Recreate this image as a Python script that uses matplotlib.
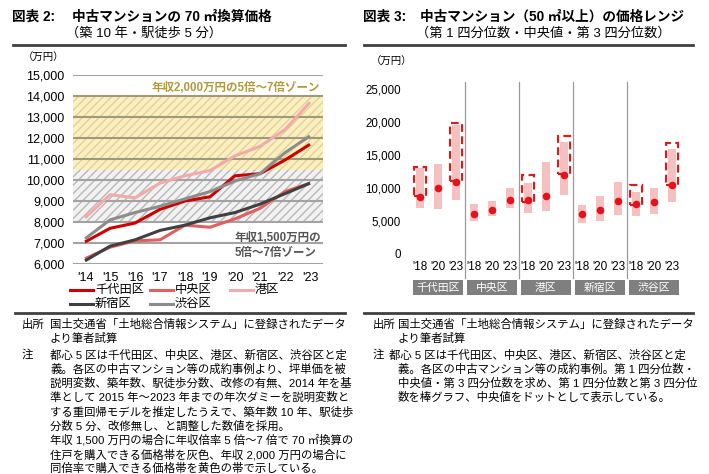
import numpy as np
import matplotlib.pyplot as plt
from matplotlib.lines import Line2D
from matplotlib.patches import Rectangle
import matplotlib.transforms as mtransforms

plt.rcParams['font.family'] = ['Liberation Sans', 'Noto Sans CJK JP']

# ---- left chart data (万円, 70㎡換算) ----
years = [2014, 2015, 2016, 2017, 2018, 2019, 2020, 2021, 2022, 2023]
year_labels = ["'14", "'15", "'16", "'17", "'18", "'19", "'20", "'21", "'22", "'23"]
chiyoda = [7050, 7700, 7950, 8600, 9000, 9200, 10200, 10300, 10950, 11700]
chuo = [6250, 6800, 7100, 7150, 7850, 7750, 8150, 8650, 9450, 9850]
minato = [8200, 9300, 9150, 9850, 10200, 10450, 11150, 11600, 12400, 13700]
shinjuku = [6150, 6850, 7150, 7600, 7850, 8200, 8450, 8850, 9350, 9850]
shibuya = [7200, 8100, 8450, 8750, 9100, 9450, 9950, 10300, 11300, 12100]
series_names = ['千代田区', '中央区', '港区', '新宿区', '渋谷区']
series_colors = ['#cc0000', '#e06060', '#f2aaaa', '#404040', '#8c8c8c']
zone_1500 = (8000, 10500)
zone_2000 = (10000, 14000)

# ---- right chart data (万円, 50㎡以上) ----
districts = ['千代田区', '中央区', '港区', '新宿区', '渋谷区']
years_r = ["'18", "'20", "'23"]
q1 = [6900, 6750, 8200, 5000, 5800, 6900, 6150, 6500, 8900, 4750, 5000, 5850, 5750, 6000, 7900]
median = [8700, 10000, 10850, 6000, 6650, 8200, 8200, 8800, 12000, 6050, 6600, 8000, 7650, 7850, 10450]
q3 = [13000, 13650, 19550, 7600, 8100, 9950, 10800, 13900, 16900, 7400, 8850, 10850, 9450, 9950, 15850]
nan = np.nan
hl_lo = [8850, nan, 11050, nan, nan, nan, 7900, nan, 12100, nan, nan, nan, 7400, nan, 10450]
hl_hi = [13250, nan, 19900, nan, nan, nan, 11900, nan, 17850, nan, nan, nan, 10450, nan, 16750]

W, H = 709, 474
fig = plt.figure(figsize=(W / 100, H / 100), dpi=100)


def fx(x):
    return x / W


def fy(y):
    return 1 - y / H


def box(l, t, r, b):
    return [fx(l), fy(b), (r - l) / W, (b - t) / H]


def hline(x0, x1, y, lw=2.0, color='#404040'):
    fig.add_artist(Line2D([fx(x0), fx(x1)], [fy(y), fy(y)], lw=lw, color=color))


# titles
fig.text(fx(12), fy(17), '図表 2:', fontsize=9.8, fontweight='bold', va='center')
fig.text(fx(72), fy(17), '中古マンションの 70 ㎡換算価格', fontsize=9.8, fontweight='bold', va='center')
fig.text(fx(66), fy(33), '（築 10 年・駅徒歩 5 分）', fontsize=9.5, va='center')
fig.text(fx(363), fy(17), '図表 3:', fontsize=9.8, fontweight='bold', va='center')
fig.text(fx(420), fy(17), '中古マンション（50 ㎡以上）の価格レンジ', fontsize=9.8, fontweight='bold', va='center')
fig.text(fx(416), fy(33), '（第 1 四分位数・中央値・第 3 四分位数）', fontsize=9.5, va='center')
hline(13, 345, 45)
hline(364, 693, 45)
hline(15, 345, 313)
hline(364, 693, 313)
fig.text(fx(23), fy(58), '（万円）', fontsize=7.5, va='center')
fig.text(fx(371), fy(62), '（万円）', fontsize=7.5, va='center')

# ---- left chart ----
ax1 = fig.add_axes(box(73, 75, 323, 264))
ax1.set_xlim(2013.52, 2023.52)
ax1.set_ylim(6000, 15000)
ax1.axhspan(*zone_2000, facecolor='#fbf0c4', edgecolor='#e3d38e', hatch='////', lw=0, zorder=0.5)
ax1.axhspan(*zone_1500, facecolor='#f2f2f2', edgecolor='#b8b8b8', hatch='////', lw=0, zorder=0.6)
for v in range(6000, 15001, 1000):
    in_yellow = zone_1500[1] < v <= zone_2000[1]
    ax1.axhline(v, color='#a09a7c' if in_yellow else '#a3a3a3', lw=1.5, zorder=1)
for vals, name, col in zip([chiyoda, chuo, minato, shinjuku, shibuya], series_names, series_colors):
    ax1.plot(years, vals, color=col, lw=2.2, zorder=3, solid_capstyle='butt')
ax1.text(2023.4, 14380, '年収2,000万円の5倍～7倍ゾーン', color='#b09a3c', fontsize=8.3,
         fontweight='bold', ha='right', va='center', zorder=4)
ax1.text(2020.0, 6870, '年収1,500万円の\n5倍～7倍ゾーン', color='#555555', fontsize=8.3,
         fontweight='bold', ha='left', va='center', linespacing=1.35, zorder=4)
ax1.set_yticks(range(6000, 15001, 1000))
ax1.set_yticklabels([f'{v:,}' for v in range(6000, 15001, 1000)], fontsize=9)
ax1.set_xticks(years)
ax1.set_xticklabels(year_labels, fontsize=9)
ax1.tick_params(length=0, pad=6)
for s in ax1.spines.values():
    s.set_visible(False)

# legend (manual, 3 columns)
leg_x = [70, 150, 230, 70, 150]
leg_y = [290, 290, 290, 304, 304]
for name, col, lx, ly in zip(series_names, series_colors, leg_x, leg_y):
    fig.add_artist(Line2D([fx(lx), fx(lx + 23)], [fy(ly), fy(ly)], color=col, lw=2.2))
    fig.text(fx(lx + 25), fy(ly), name, fontsize=8.8, va='center')

# ---- right chart ----
ax2 = fig.add_axes(box(405, 82.4, 690, 254))
ax2.set_xlim(-0.83, 15.0)
ax2.set_ylim(0, 26000)
xs = np.arange(len(median))
ax2.bar(xs, np.array(q3) - np.array(q1), bottom=q1, width=0.4, color='#f4c0c0', zorder=2)
ax2.scatter(xs, median, s=30, color='#e8101a', zorder=4, linewidths=0)
for x, lo, hi in zip(xs, hl_lo, hl_hi):
    if np.isnan(lo):
        continue
    ax2.add_patch(Rectangle((x - 0.33, lo), 0.66, hi - lo, fill=False, edgecolor='#d02020',
                            lw=1.6, linestyle=(0, (3.5, 2)), zorder=3))
for i in range(1, len(districts)):
    ax2.axvline(3 * i - 0.5, ymin=-0.14, ymax=1.0, color='#9a9a9a', lw=0.9, clip_on=False)
trans = mtransforms.blended_transform_factory(ax2.transData, ax2.transAxes)
for i, d in enumerate(districts):
    c = 3 * i + 1
    ax2.add_patch(Rectangle((c - 1.4, -0.24), 2.8, 0.088, transform=trans, clip_on=False,
                            facecolor='#7f7f7f', edgecolor='none'))
    ax2.text(c, -0.196, d, transform=trans, ha='center', va='center', color='white', fontsize=7.8)
ax2.set_yticks(range(0, 25001, 5000))
ax2.set_yticklabels([f'{v:,}' for v in range(0, 25001, 5000)], fontsize=8.3)
ax2.set_xticks(xs)
ax2.set_xticklabels(years_r * len(districts), fontsize=8.5)
ax2.tick_params(length=0, pad=5)
ax2.tick_params(axis='y', pad=3)
for s in ax2.spines.values():
    s.set_visible(False)

# ---- notes ----
fs = 8.2
left_notes = [
    ('出所', '国土交通省「土地総合情報システム」に登録されたデータ'),
    ('', 'より筆者試算'),
    ('注', '都心 5 区は千代田区、中央区、港区、新宿区、渋谷区と定'),
    ('', '義。各区の中古マンション等の成約事例より、坪単価を被'),
    ('', '説明変数、築年数、駅徒歩分数、改修の有無、2014 年を基'),
    ('', '準として 2015 年～2023 年までの年次ダミーを説明変数と'),
    ('', 'する重回帰モデルを推定したうえで、築年数 10 年、駅徒歩'),
    ('', '分数 5 分、改修無し、と調整した数値を採用。'),
    ('', '年収 1,500 万円の場合に年収倍率 5 倍～7 倍で 70 ㎡換算の'),
    ('', '住戸を購入できる価格帯を灰色、年収 2,000 万円の場合に'),
    ('', '同倍率で購入できる価格帯を黄色の帯で示している。'),
]
right_notes = [
    ('出所', '国土交通省「土地総合情報システム」に登録されたデータ'),
    ('', 'より筆者試算'),
    ('注', '都心 5 区は千代田区、中央区、港区、新宿区、渋谷区と定'),
    ('', '義。各区の中古マンション等の成約事例。第 1 四分位数・'),
    ('', '中央値・第 3 四分位数を求め、第 1 四分位数と第 3 四分位'),
    ('', '数を棒グラフ、中央値をドットとして表示している。'),
]


def note_y(i):
    # two source lines, then a small gap before the note block
    return 324 + 14.2 * i + (2.5 if i >= 2 else 0)


for i, (head, body) in enumerate(left_notes):
    if head:
        fig.text(fx(22), fy(note_y(i)), head, fontsize=fs, va='center')
    fig.text(fx(50), fy(note_y(i)), body, fontsize=fs, va='center')

for i, (head, body) in enumerate(right_notes):
    bx = 389 if head == '注' else 398
    if head:
        fig.text(fx(373), fy(note_y(i)), head, fontsize=fs, va='center')
    fig.text(fx(bx), fy(note_y(i)), body, fontsize=fs, va='center')

fig.savefig('out.png', dpi=100)
